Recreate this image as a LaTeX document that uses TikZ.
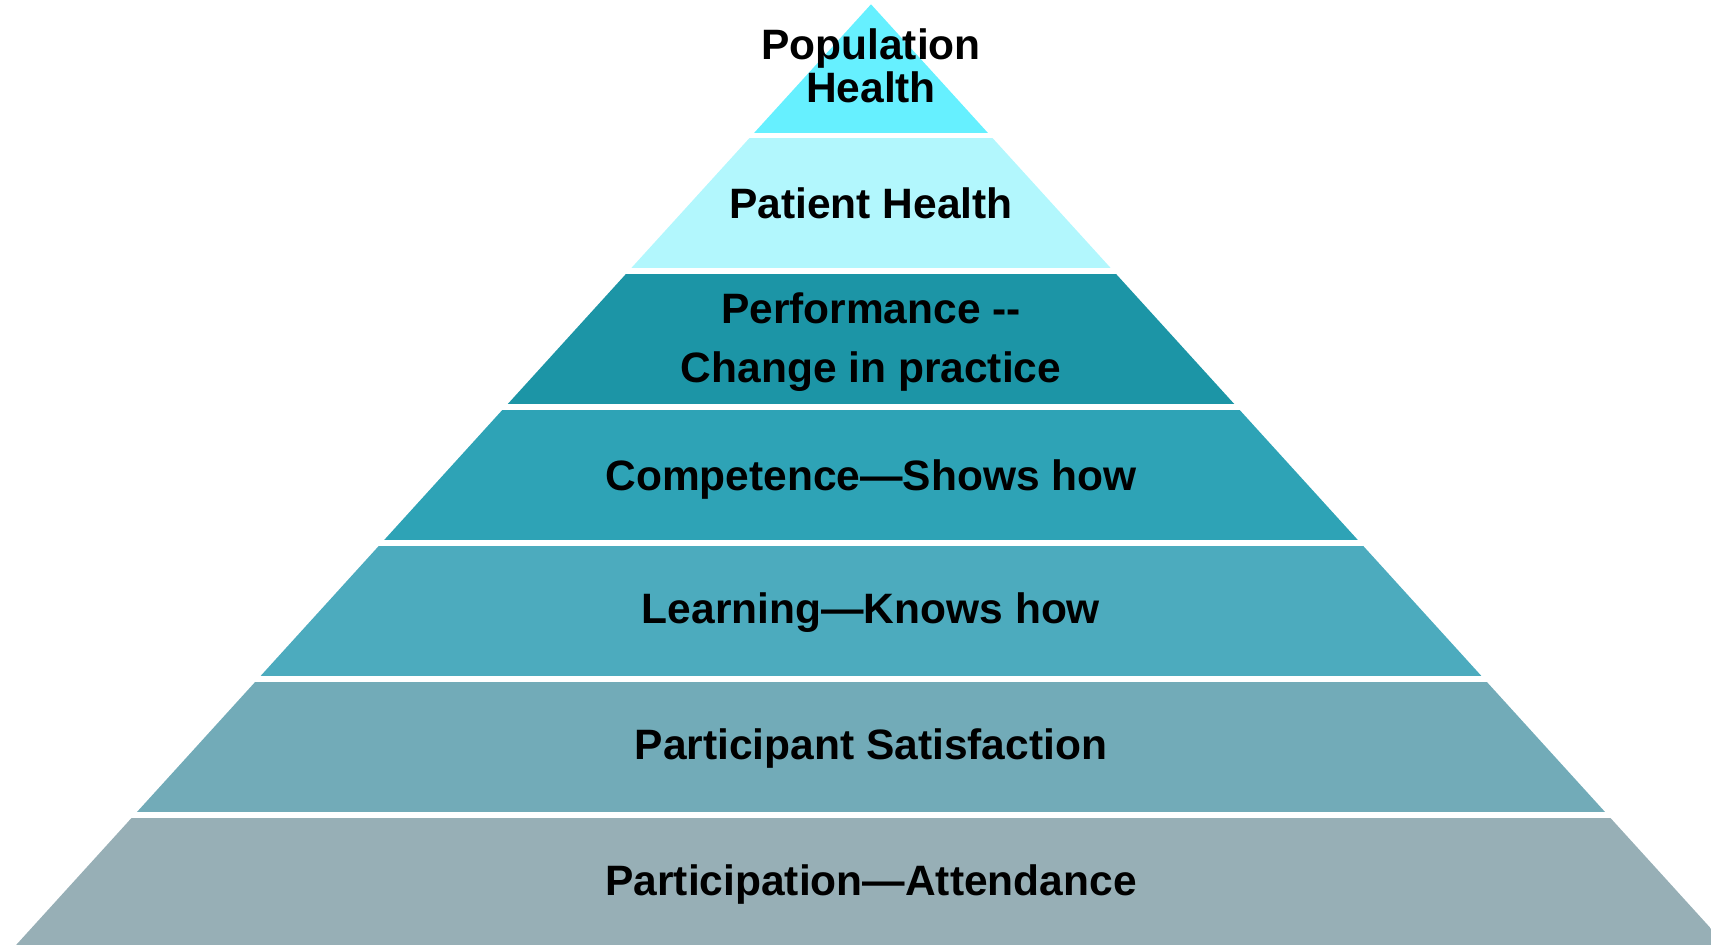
\documentclass[tikz,border=0pt]{standalone}
\usepackage{fontspec}
\setmainfont{Liberation Sans}
\definecolor{tierA}{RGB}{102,240,255}
\definecolor{tierB}{RGB}{178,247,253}
\definecolor{tierC}{RGB}{28,149,166}
\definecolor{tierD}{RGB}{46,163,182}
\definecolor{tierE}{RGB}{76,171,190}
\definecolor{tierF}{RGB}{114,171,184}
\definecolor{tierG}{RGB}{151,175,182}
\begin{document}
\begin{tikzpicture}[x=1pt,y=-1pt,
  lbl/.style={font=\fontsize{42.5}{43}\selectfont\bfseries, anchor=base,
              inner sep=0pt, text=black}]
\useasboundingbox (0,0) rectangle (1711,945);
% slope of the pyramid sides (horizontal per vertical), apex at (871,4.3)
\def\slope{0.9088}
\begin{scope}
  \clip (871,4.3) -- ({871-\slope*945.7},950) -- ({871+\slope*945.7},950) -- cycle;
  \fill[tierA] (0,0)   rectangle (1711,133);
  \fill[tierB] (0,138) rectangle (1711,268);
  \fill[tierC] (0,274) rectangle (1711,404);
  \fill[tierD] (0,410) rectangle (1711,540);
  \fill[tierE] (0,546) rectangle (1711,676);
  \fill[tierF] (0,682) rectangle (1711,812);
  \fill[tierG] (0,818) rectangle (1711,950);
\end{scope}
% tier labels
\node[lbl] (pop1) at (871,59)  {Population};
\node[lbl] (pop2) at (871,102) {Health};
\node[lbl] (pat)  at (871,218) {Patient Health};
\node[lbl] (perf1) at (871,323) {Performance -{}-};
\node[lbl] (perf2) at (871,382) {Change in practice};
\node[lbl] (comp) at (871,490) {Competence—Shows how};
\node[lbl] (learn) at (871,623) {Learning—Knows how};
\node[lbl] (sat)  at (871,759) {Participant Satisfaction};
\node[lbl] (att)  at (871,895) {Participation—Attendance};
\end{tikzpicture}
\end{document}
